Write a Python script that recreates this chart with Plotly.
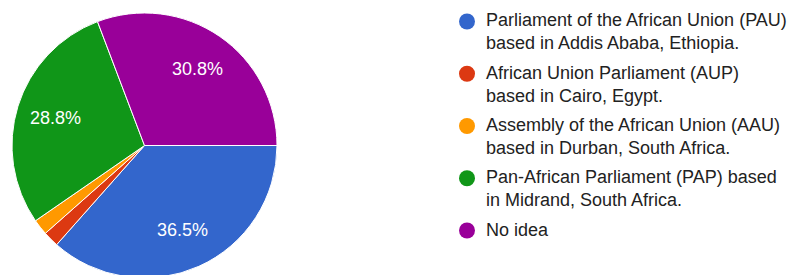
import math
import plotly.graph_objects as go

labels = [
    "Parliament of the African Union (PAU)<br>based in Addis Ababa, Ethiopia.",
    "African Union Parliament (AUP)<br>based in Cairo, Egypt.",
    "Assembly of the African Union (AAU)<br>based in Durban, South Africa.",
    "Pan-African Parliament (PAP) based<br>in Midrand, South Africa.",
    "No idea",
]
counts = [38, 2, 2, 30, 32]
colors = ["#3366cc", "#dc3912", "#ff9900", "#109618", "#990099"]

W, H = 789, 278
MT = 13
PH = H - MT  # plot-area height
FONT = "Arial, Liberation Sans, sans-serif"


def px(x):
    return x / W


def py(y):
    return 1 - (y - MT) / PH


total = sum(counts)

fig = go.Figure()
fig.add_trace(go.Pie(
    labels=labels,
    values=counts,
    textinfo="none",
    marker=dict(colors=colors, line=dict(color="white", width=1)),
    sort=False,
    direction="clockwise",
    rotation=90,
    showlegend=False,
    hoverinfo="label+percent",
    domain=dict(x=[0, 289 / W], y=[0, 1]),
))

# percentage labels placed along each slice's mid-angle (like Google Charts)
cx, cy0, r = 144.5, MT + PH / 2, PH / 2
cum = 0
for c in counts:
    frac = c / total
    mid = (cum + frac / 2) * 2 * math.pi  # clockwise from 3 o'clock
    cum += frac
    if frac < 0.05:
        continue
    lx = cx + 0.7 * r * math.cos(mid)
    ly = cy0 + 0.7 * r * math.sin(mid)
    fig.add_annotation(x=px(lx), y=py(ly), xref="paper", yref="paper",
                       xanchor="center", yanchor="middle", showarrow=False,
                       text=f"{100*frac:.1f}%",
                       font=dict(family=FONT, size=18, color="white"))

# custom legend
top = 21.5
step = 52.25
for i, (lab, col) in enumerate(zip(labels, colors)):
    cy = top + step * i
    fig.add_shape(type="circle", xref="paper", yref="paper",
                  x0=px(467 - 8), x1=px(467 + 8),
                  y0=py(cy + 8), y1=py(cy - 8),
                  fillcolor=col, line=dict(width=0))
    fig.add_annotation(x=px(484), y=py(cy - 13), xref="paper", yref="paper",
                       xanchor="left", yanchor="top", align="left", showarrow=False,
                       text=lab,
                       font=dict(family=FONT, size=18, color="#222222"))

fig.update_layout(
    width=W, height=H,
    margin=dict(l=0, r=0, t=MT, b=0),
    paper_bgcolor="white", plot_bgcolor="white",
)
fig.write_html("out.html", config={"displayModeBar": False},
               post_script="document.body.style.margin='0';document.body.style.overflow='hidden';")
